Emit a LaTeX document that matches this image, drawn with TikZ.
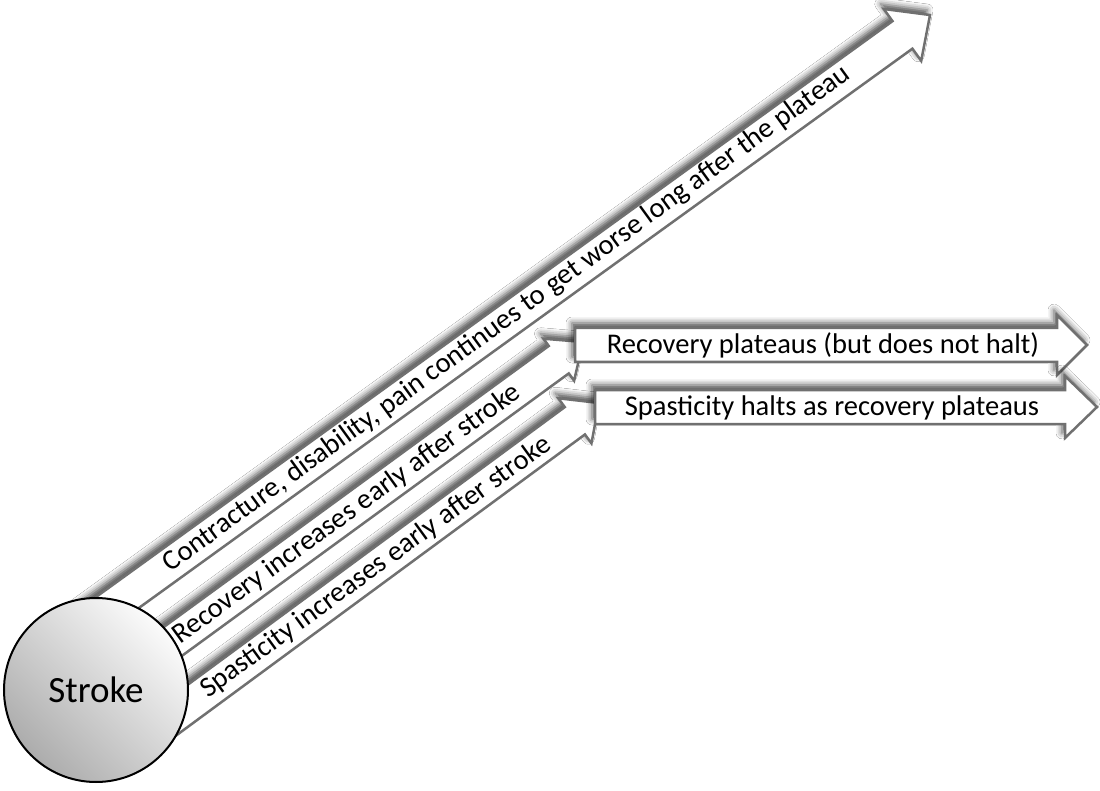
\documentclass[tikz,border=0pt]{standalone}
\usepackage{fontspec}
\setmainfont{Carlito}
\usetikzlibrary{calc, shadows.blur}
\definecolor{cEdge}{RGB}{112,112,112}
\tikzset{
    blockarrow/.style={draw=cEdge, line width=2.5pt, fill=white, line join=miter,
        blur shadow={shadow xshift=-3pt, shadow yshift=5pt, shadow blur radius=6pt, shadow opacity=70}},
    arrowtext/.style={font=\fontsize{28.5pt}{34pt}\selectfont, inner sep=0pt, anchor=center},
    strokenode/.style={circle, draw=black, line width=2pt, minimum size=184pt, inner sep=0pt,
        shading=axis, top color=gray!3, bottom color=gray!65, shading angle=-45,
        font=\fontsize{37pt}{44pt}\selectfont},
}
% #1 tail, #2 tip, #3 half shaft, #4 half head, #5 head length
\newcommand{\blockarrow}[5]{%
    \coordinate (hb) at ($(#2)!#5!(#1)$);
    \draw[blockarrow] ($(#1)!#3!90:(#2)$) -- ($(hb)!#3!90:(#2)$) -- ($(hb)!#4!90:(#2)$) -- (#2)
        -- ($(hb)!#4!-90:(#2)$) -- ($(hb)!#3!-90:(#2)$) -- ($(#1)!#3!-90:(#2)$) -- cycle;
}

\begin{document}
\begin{tikzpicture}[x=1pt, y=-1pt]
    \fill[white] (0,0) rectangle (1100,791);
    \useasboundingbox (0,0) rectangle (1100,791);
    % tails and tips
    \coordinate (c0) at (60,644);   \coordinate (c1) at (930,15);
    \coordinate (r0) at (120,680);  \coordinate (r1) at (583,342);
    \coordinate (s0) at (140,741);  \coordinate (s1) at (599,403);
    \coordinate (rp0) at (575,345); \coordinate (rp1) at (1087,345);
    \coordinate (sh0) at (595,407); \coordinate (sh1) at (1097,407);
    % arrows
    \blockarrow{c0}{c1}{17pt}{32pt}{34pt}
    \blockarrow{r0}{r1}{17pt}{26pt}{30pt}
    \blockarrow{s0}{s1}{17pt}{28pt}{30pt}
    \blockarrow{rp0}{rp1}{17pt}{30pt}{30pt}
    \blockarrow{sh0}{sh1}{17pt}{31pt}{32pt}
    % labels
    \node[arrowtext, rotate=36] (contxt) at (507,319) {Contracture, disability, pain continues to get worse long after the plateau};
    \node[arrowtext, rotate=36] (recup) at (347,514) {Recovery increases early after stroke};
    \node[arrowtext, rotate=36] (spasup) at (376,567) {Spasticity increases early after stroke};
    \node[arrowtext] (recflat) at (823,345) {Recovery plateaus (but does not halt)};
    \node[arrowtext] (spasflat) at (832,408) {Spasticity halts as recovery plateaus};
    % stroke
    \node[strokenode] (stroke) at (96,690) {Stroke};
\end{tikzpicture}
\end{document}
